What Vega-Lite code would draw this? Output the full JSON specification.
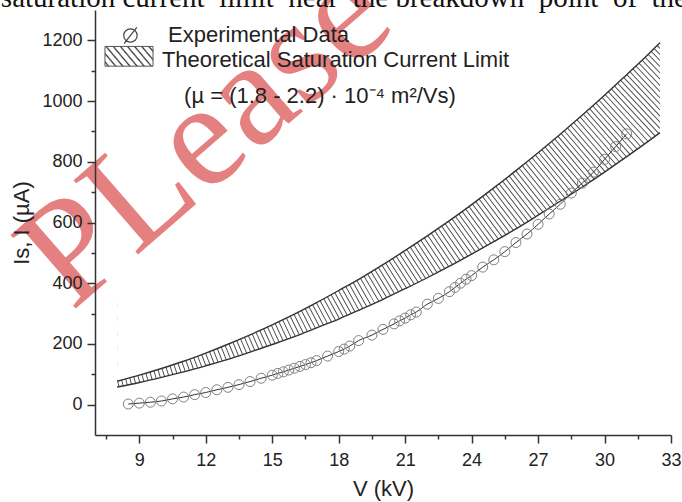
{
  "$schema": "https://vega.github.io/schema/vega-lite/v6.json",
  "width": 576,
  "height": 425,
  "autosize": {"type": "none"},
  "padding": {"left": 95, "top": 10, "right": 11, "bottom": 67},
  "background": "white",
  "config": {"view": {"stroke": null}, "font": "Liberation Sans"},
  "resolve": {"axis": {"x": "independent", "y": "independent"}},
  "datasets": {
    "band": [
      {"V": 8, "upper": 77, "lower": 58},
      {"V": 9, "upper": 97, "lower": 73},
      {"V": 10, "upper": 119, "lower": 90},
      {"V": 11, "upper": 143, "lower": 108},
      {"V": 12, "upper": 170, "lower": 128},
      {"V": 13, "upper": 199, "lower": 149},
      {"V": 14, "upper": 230, "lower": 173},
      {"V": 15, "upper": 263, "lower": 198},
      {"V": 16, "upper": 298, "lower": 224},
      {"V": 17, "upper": 336, "lower": 253},
      {"V": 18, "upper": 376, "lower": 282},
      {"V": 19, "upper": 417, "lower": 314},
      {"V": 20, "upper": 461, "lower": 347},
      {"V": 21, "upper": 508, "lower": 382},
      {"V": 22, "upper": 556, "lower": 418},
      {"V": 23, "upper": 606, "lower": 456},
      {"V": 24, "upper": 659, "lower": 496},
      {"V": 25, "upper": 714, "lower": 537},
      {"V": 26, "upper": 771, "lower": 579},
      {"V": 27, "upper": 830, "lower": 624},
      {"V": 28, "upper": 891, "lower": 670},
      {"V": 29, "upper": 954, "lower": 717},
      {"V": 30, "upper": 1019, "lower": 766},
      {"V": 31, "upper": 1087, "lower": 817},
      {"V": 32, "upper": 1156, "lower": 869},
      {"V": 32.5, "upper": 1192, "lower": 896}
    ],
    "exp": [
      {"V": 8.5, "I": 2}, {"V": 9, "I": 5}, {"V": 9.5, "I": 8}, {"V": 10, "I": 12},
      {"V": 10.5, "I": 19}, {"V": 11, "I": 25}, {"V": 11.5, "I": 33}, {"V": 12, "I": 40},
      {"V": 12.5, "I": 49}, {"V": 13, "I": 57}, {"V": 13.5, "I": 66}, {"V": 14, "I": 76},
      {"V": 14.5, "I": 87}, {"V": 15, "I": 97}, {"V": 15.25, "I": 103}, {"V": 15.5, "I": 108},
      {"V": 15.75, "I": 114}, {"V": 16, "I": 120}, {"V": 16.25, "I": 126}, {"V": 16.5, "I": 132},
      {"V": 16.75, "I": 138}, {"V": 17, "I": 145}, {"V": 17.5, "I": 160}, {"V": 18, "I": 175},
      {"V": 18.25, "I": 183}, {"V": 18.5, "I": 193}, {"V": 18.9, "I": 211}, {"V": 19.5, "I": 229},
      {"V": 20, "I": 248}, {"V": 20.5, "I": 266}, {"V": 20.75, "I": 276}, {"V": 21, "I": 285},
      {"V": 21.25, "I": 296}, {"V": 21.5, "I": 305}, {"V": 22, "I": 331}, {"V": 22.5, "I": 350},
      {"V": 23, "I": 372}, {"V": 23.25, "I": 386}, {"V": 23.5, "I": 400}, {"V": 23.75, "I": 413},
      {"V": 24, "I": 425}, {"V": 24.5, "I": 453}, {"V": 25, "I": 477}, {"V": 25.5, "I": 504},
      {"V": 26, "I": 534}, {"V": 26.5, "I": 562}, {"V": 27, "I": 594}, {"V": 27.5, "I": 628},
      {"V": 28, "I": 660}, {"V": 28.5, "I": 697}, {"V": 29, "I": 730}, {"V": 29.5, "I": 766},
      {"V": 30, "I": 808}, {"V": 30.5, "I": 850}, {"V": 31, "I": 892}
    ]
  },
  "layer": [
    {
      "data": {"name": "band"},
      "mark": {"type": "line", "interpolate": "monotone", "strokeWidth": 150, "strokeDash": [0.9, 3.3], "strokeCap": "butt", "color": "#444", "clip": true},
      "encoding": {
        "x": {"field": "V", "type": "quantitative", "scale": {"domain": [7, 33], "nice": false, "zero": false},
          "axis": {
            "orient": "bottom",
            "values": [9, 12, 15, 18, 21, 24, 27, 30, 33],
            "tickSize": 8,
            "title": "V (kV)", "titleFontSize": 22, "titleFont": "Liberation Sans", "titleFontWeight": "normal", "titleColor": "#222", "titlePadding": 9,
            "labelFontSize": 18, "labelFont": "Liberation Sans", "labelColor": "#222", "labelPadding": 8,
            "domainColor": "#333", "domainWidth": 1.5, "tickColor": "#333", "tickWidth": 1.5, "grid": false, "zindex": 1, "labelFlush": false, "labelOverlap": false, "format": "d"
          }},
        "y": {"field": "upper", "type": "quantitative", "scale": {"domain": [-100, 1300], "nice": false, "zero": false},
          "axis": {
            "orient": "left",
            "values": [0, 200, 400, 600, 800, 1000, 1200],
            "tickSize": 8,
            "title": "Is, I (µA)", "titleFontSize": 22, "titleFont": "Liberation Sans", "titleFontWeight": "normal", "titleColor": "#222", "titlePadding": 8,
            "labelFontSize": 18, "labelFont": "Liberation Sans", "labelColor": "#222", "labelPadding": 5,
            "domainColor": "#333", "domainWidth": 1.5, "tickColor": "#333", "tickWidth": 1.5, "grid": false, "zindex": 1, "labelFlush": false, "labelOverlap": false, "format": "d"
          }}
      }
    },
    {
      "data": {"name": "band"},
      "mark": {"type": "area", "interpolate": "monotone", "color": "white", "clip": true},
      "encoding": {
        "x": {"field": "V", "type": "quantitative",
          "axis": {"orient": "bottom", "values": [7.5, 10.5, 13.5, 16.5, 19.5, 22.5, 25.5, 28.5, 31.5], "tickSize": 4, "labels": false, "domain": false, "title": null, "tickColor": "#333", "tickWidth": 1.5, "grid": false, "zindex": 1}},
        "y": {"field": "upper", "type": "quantitative",
          "axis": {"orient": "left", "values": [100, 300, 500, 700, 900, 1100], "tickSize": 4, "labels": false, "domain": false, "title": null, "tickColor": "#333", "tickWidth": 1.5, "grid": false, "zindex": 1}},
        "y2": {"datum": 1300}
      }
    },
    {
      "data": {"name": "band"},
      "mark": {"type": "area", "interpolate": "monotone", "color": "white", "clip": true},
      "encoding": {
        "x": {"field": "V", "type": "quantitative", "axis": null},
        "y": {"field": "lower", "type": "quantitative", "axis": null},
        "y2": {"datum": -100}
      }
    },
    {
      "data": {"values": [{}]},
      "mark": {"type": "rect", "color": "white", "clip": true},
      "encoding": {
        "x": {"datum": 7, "type": "quantitative", "axis": null},
        "x2": {"datum": 8},
        "y": {"datum": -100, "type": "quantitative", "axis": null},
        "y2": {"datum": 1300}
      }
    },
    {
      "data": {"values": [{}]},
      "mark": {"type": "rect", "color": "white", "clip": true},
      "encoding": {
        "x": {"datum": 32.5, "type": "quantitative", "axis": null},
        "x2": {"datum": 33},
        "y": {"datum": -100, "type": "quantitative", "axis": null},
        "y2": {"datum": 1300}
      }
    },
    {
      "data": {"name": "band"},
      "mark": {"type": "line", "interpolate": "monotone", "strokeWidth": 1.4, "color": "#333"},
      "encoding": {
        "x": {"field": "V", "type": "quantitative", "axis": null},
        "y": {"field": "upper", "type": "quantitative", "axis": null}
      }
    },
    {
      "data": {"name": "band"},
      "mark": {"type": "line", "interpolate": "monotone", "strokeWidth": 1.4, "color": "#333"},
      "encoding": {
        "x": {"field": "V", "type": "quantitative", "axis": null},
        "y": {"field": "lower", "type": "quantitative", "axis": null}
      }
    },
    {
      "data": {"name": "exp"},
      "mark": {"type": "line", "interpolate": "monotone", "strokeWidth": 1, "color": "#333"},
      "encoding": {
        "x": {"field": "V", "type": "quantitative", "axis": null},
        "y": {"field": "I", "type": "quantitative", "axis": null}
      }
    },
    {
      "data": {"name": "exp"},
      "mark": {"type": "point", "shape": "circle", "filled": false, "size": 100, "stroke": "#808080", "strokeWidth": 1, "opacity": 1},
      "encoding": {
        "x": {"field": "V", "type": "quantitative", "axis": null},
        "y": {"field": "I", "type": "quantitative", "axis": null}
      }
    },
    {
      "data": {"values": [{}]},
      "mark": {"type": "text", "text": "PLease", "font": "Liberation Serif", "fontSize": 150, "align": "center", "baseline": "middle", "angle": 319, "color": "#d9403f", "opacity": 0.66},
      "encoding": {
        "x": {"datum": 12.0, "type": "quantitative", "axis": null},
        "y": {"datum": 885, "type": "quantitative", "axis": null}
      }
    },
    {
      "data": {"values": [{}]},
      "mark": {"type": "text", "text": "saturation current\u00a0 limit\u00a0 near\u00a0 the breakdown\u00a0 point\u00a0 of\u00a0 the", "font": "Liberation Serif", "fontSize": 29, "align": "left", "baseline": "alphabetic", "color": "#111"},
      "encoding": {
        "x": {"datum": 2.75, "type": "quantitative", "axis": null},
        "y": {"datum": 1311, "type": "quantitative", "axis": null}
      }
    },
    {
      "data": {"values": [{}]},
      "mark": {"type": "point", "shape": "M-1,0A1,1 0 1,1 1,0A1,1 0 1,1 -1,0ZM-0.95,1.2L0.95,-1.2", "filled": false, "size": 180, "stroke": "#444", "strokeWidth": 1.2, "opacity": 1},
      "encoding": {
        "x": {"datum": 8.6, "type": "quantitative", "axis": null},
        "y": {"datum": 1216, "type": "quantitative", "axis": null}
      }
    },
    {
      "data": {"values": [{}]},
      "mark": {"type": "text", "text": "Experimental Data", "font": "Liberation Sans", "fontSize": 22, "align": "left", "baseline": "middle", "color": "#222"},
      "encoding": {
        "x": {"datum": 10.3, "type": "quantitative", "axis": null},
        "y": {"datum": 1218, "type": "quantitative", "axis": null}
      }
    },
    {
      "data": {"values": [{}]},
      "mark": {"type": "rect", "stroke": "#555", "strokeWidth": 1,
        "fill": {"gradient": "linear", "x1": 0, "y1": 1, "x2": 1.203, "y2": 0.582, "stops": [
          {"offset": 0, "color": "white"},
          {"offset": 0.03, "color": "white"}, {"offset": 0.055, "color": "#333"}, {"offset": 0.08, "color": "white"},
          {"offset": 0.14, "color": "white"}, {"offset": 0.165, "color": "#333"}, {"offset": 0.19, "color": "white"},
          {"offset": 0.25, "color": "white"}, {"offset": 0.275, "color": "#333"}, {"offset": 0.30, "color": "white"},
          {"offset": 0.36, "color": "white"}, {"offset": 0.385, "color": "#333"}, {"offset": 0.41, "color": "white"},
          {"offset": 0.47, "color": "white"}, {"offset": 0.495, "color": "#333"}, {"offset": 0.52, "color": "white"},
          {"offset": 0.58, "color": "white"}, {"offset": 0.605, "color": "#333"}, {"offset": 0.63, "color": "white"},
          {"offset": 0.69, "color": "white"}, {"offset": 0.715, "color": "#333"}, {"offset": 0.74, "color": "white"},
          {"offset": 0.80, "color": "white"}, {"offset": 0.825, "color": "#333"}, {"offset": 0.85, "color": "white"},
          {"offset": 0.91, "color": "white"}, {"offset": 0.935, "color": "#333"}, {"offset": 0.96, "color": "white"},
          {"offset": 1, "color": "white"}
        ]}},
      "encoding": {
        "x": {"datum": 7.45, "type": "quantitative", "axis": null},
        "x2": {"datum": 9.62},
        "y": {"datum": 1180, "type": "quantitative", "axis": null},
        "y2": {"datum": 1115}
      }
    },
    {
      "data": {"values": [{}]},
      "mark": {"type": "text", "text": "Theoretical Saturation Current Limit", "font": "Liberation Sans", "fontSize": 22, "align": "left", "baseline": "middle", "color": "#222"},
      "encoding": {
        "x": {"datum": 10.02, "type": "quantitative", "axis": null},
        "y": {"datum": 1134, "type": "quantitative", "axis": null}
      }
    },
    {
      "data": {"values": [{}]},
      "mark": {"type": "text", "text": "(µ = (1.8 - 2.2) · 10⁻⁴ m²/Vs)", "font": "Liberation Sans", "fontSize": 22, "align": "left", "baseline": "middle", "color": "#222"},
      "encoding": {
        "x": {"datum": 11.02, "type": "quantitative", "axis": null},
        "y": {"datum": 1016, "type": "quantitative", "axis": null}
      }
    }
  ]
}
